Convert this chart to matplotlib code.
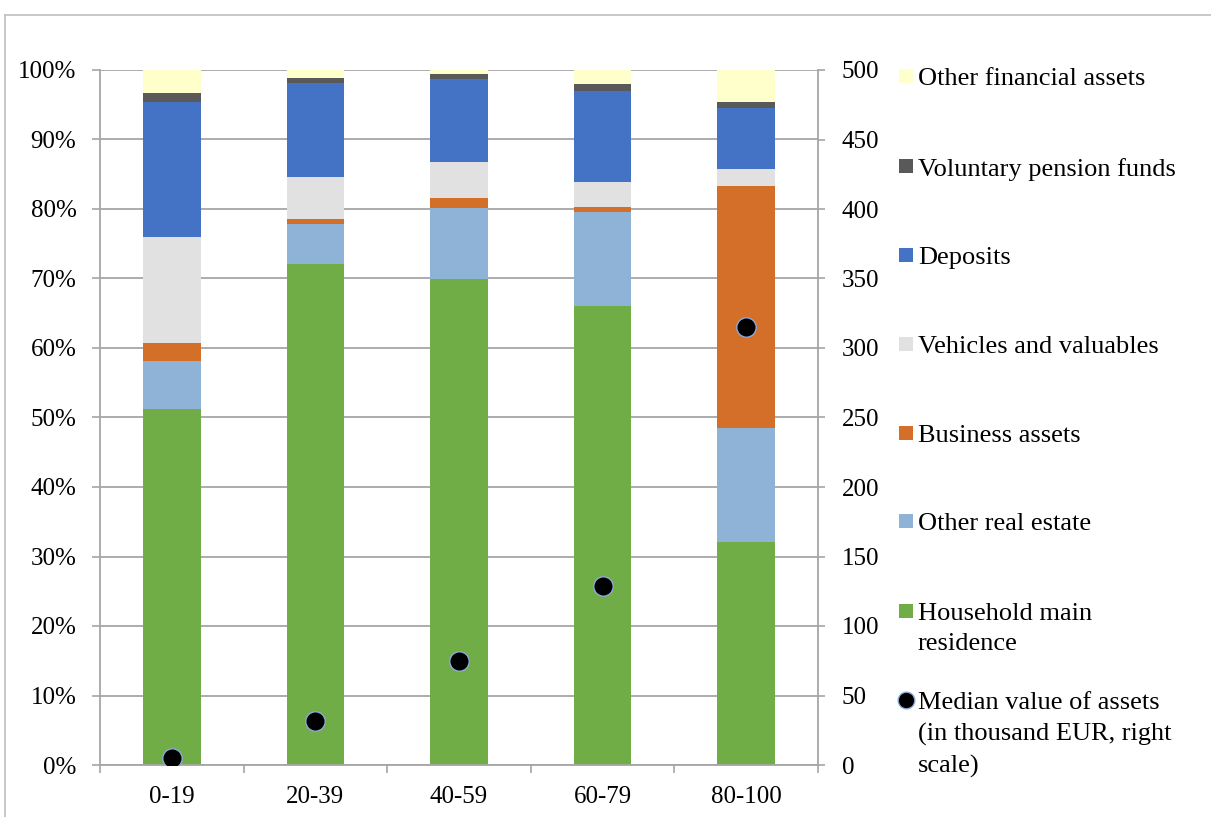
import matplotlib.pyplot as plt
from matplotlib.patches import Rectangle
from matplotlib.lines import Line2D

plt.rcParams['font.family'] = ['Liberation Serif', 'DejaVu Serif']

groups = ['0-19', '20-39', '40-59', '60-79', '80-100']

# composition of assets, % of total
main_residence = [51.2, 72.1, 70.0, 66.0, 32.1]
other_real_estate = [6.9, 5.8, 10.2, 13.5, 16.4]
business_assets = [2.6, 0.7, 1.35, 0.8, 34.8]
vehicles_valuables = [15.2, 6.0, 5.2, 3.55, 2.45]
deposits = [19.5, 13.6, 12.0, 13.1, 8.8]
pension_funds = [1.3, 0.65, 0.65, 1.1, 0.8]
other_financial = [3.3, 1.15, 0.6, 1.95, 4.65]

# median value of assets, thousand EUR (right scale)
median_assets = [5, 32, 75, 129, 315]

series = [
    ('Household main\nresidence', main_residence, '#70AD47'),
    ('Other real estate', other_real_estate, '#8FB3D7'),
    ('Business assets', business_assets, '#D46F2A'),
    ('Vehicles and valuables', vehicles_valuables, '#E1E1E1'),
    ('Deposits', deposits, '#4472C4'),
    ('Voluntary pension funds', pension_funds, '#595959'),
    ('Other financial assets', other_financial, '#FFFFCC'),
]

W, H = 1211, 817
fig = plt.figure(figsize=(W / 100, H / 100), dpi=100)
ax = fig.add_axes([100 / W, 52 / H, 718 / W, 695 / H])

grid_col = '#A6A6A6'
x = list(range(len(groups)))
bottom = [0.0] * len(groups)
for name, vals, col in series:
    ax.bar(x, vals, width=0.4, bottom=bottom, color=col, zorder=2)
    bottom = [b + v for b, v in zip(bottom, vals)]

ax.set_xlim(-0.5, 4.5)
ax.set_ylim(0, 100)
ax.set_yticks(range(0, 101, 10))
ax.set_yticklabels([f'{v}%' for v in range(0, 101, 10)])
ax.set_xticks(x)
ax.set_xticklabels(groups)
ax.set_xticks([i - 0.5 for i in range(len(groups) + 1)], minor=True)
ax.tick_params(axis='x', which='major', length=0, pad=15, labelsize=18)
ax.tick_params(axis='x', which='minor', length=6, width=1.2, color=grid_col,
               direction='out')
ax.tick_params(axis='y', length=6, width=1.2, color=grid_col, pad=11,
               labelsize=18)
ax.yaxis.grid(True, color=grid_col, lw=1.3, zorder=0)
ax.set_axisbelow(True)
for side in ['left', 'bottom']:
    ax.spines[side].set_color(grid_col)
    ax.spines[side].set_linewidth(1.3)
ax.spines['top'].set_visible(False)
ax.spines['right'].set_visible(False)

ax2 = ax.twinx()
ax2.plot(x, median_assets, 'o', ls='none', ms=14, mfc='black',
         mec='#8EA9DB', mew=1.0, zorder=5)
ax2.set_ylim(0, 500)
ax2.set_yticks(range(0, 501, 50))
ax2.tick_params(axis='y', length=5, width=1.2, color=grid_col, pad=12,
                labelsize=18)
for side in ['left', 'bottom', 'top']:
    ax2.spines[side].set_visible(False)
ax2.spines['right'].set_color(grid_col)
ax2.spines['right'].set_linewidth(1.3)

# legend keys drawn by hand so markers line up with the first text line
legend_rows = [(s[0], s[2], 'sq') for s in reversed(series)]
legend_rows.append(('Median value of assets\n(in thousand EUR, right\nscale)',
                    'black', 'dot'))
row_y = [76, 166, 255, 344, 433, 521, 611, 700]
for (label, col, kind), yc in zip(legend_rows, row_y):
    fy = 1 - yc / H
    if kind == 'sq':
        fig.add_artist(Rectangle((899 / W, 1 - (yc + 7) / H), 14 / W, 14 / H,
                                 transform=fig.transFigure, color=col, lw=0))
    else:
        fig.add_artist(Line2D([906 / W], [fy], transform=fig.transFigure,
                              marker='o', ms=12, mfc='black',
                              mec='#8EA9DB', mew=1.0))
    fig.text(918 / W, 1 - (yc - 8) / H, label, fontsize=19, va='top',
             ha='left', linespacing=1.5)

# chart area border
fig.add_artist(Line2D([5 / W, 1], [1 - 15 / H] * 2, transform=fig.transFigure,
                      color='#BFBFBF', lw=1.2))
fig.add_artist(Line2D([5 / W] * 2, [0, 1 - 15 / H], transform=fig.transFigure,
                      color='#BFBFBF', lw=1.2))

fig.savefig('out.png', dpi=100)
